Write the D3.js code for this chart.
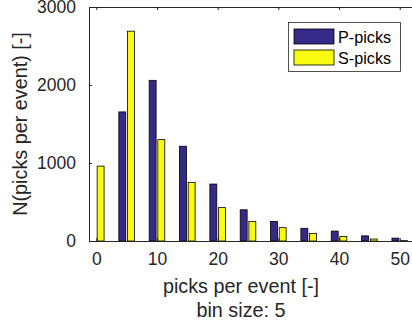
<!DOCTYPE html>
<html>
<head>
<meta charset="utf-8">
<script src="https://cdn.jsdelivr.net/npm/d3@7"></script>
<style>
  body { margin: 0; background: #fff; }
  svg { display: block; font-family: "Liberation Sans", Arial, sans-serif; }
</style>
</head>
<body>
<svg id="chart"></svg>
<script>
// chart size matches the browser window
const width = 412;
const height = 324;

// histogram data (bin centres, counts per bin)
const bins = [0, 5, 10, 15, 20, 25, 30, 35, 40, 45, 50];
const pPicks = [0, 1655, 2060, 1215, 730, 400, 250, 163, 127, 66, 37];
const sPicks = [960, 2690, 1300, 752, 428, 252, 171, 98, 58, 25, 5];
const seriesNames = ["P-picks", "S-picks"];
const seriesColors = ["#352a87", "#f9fb0e"];
const xTicks = [0, 10, 20, 30, 40, 50];
const yTicks = [0, 1000, 2000, 3000];

const axisColor = "#262626";

const svg = d3.select("#chart")
    .attr("width", width)
    .attr("height", height);

// axes box (right side falls outside the window, like the original)
const x = d3.scaleLinear().domain([-1.2, 52.5]).range([89, 414.9]);
const y = d3.scaleLinear().domain([0, 3000]).range([241, 7]);

// two bars per bin, grouped around the bin centre
const groupWidth = (x(5) - x(0)) * 0.5714;
const sub = d3.scaleBand()
    .domain(seriesNames)
    .range([-groupWidth / 2, groupWidth / 2])
    .paddingInner(0.2)
    .paddingOuter(0.1);

const rows = bins.map((b, i) => ({ bin: b, values: [pPicks[i], sPicks[i]] }));

const groups = svg.append("g")
    .selectAll("g")
    .data(rows)
    .enter()
    .append("g")
    .attr("transform", d => `translate(${x(d.bin)},0)`);

groups.selectAll("rect")
    .data(d => d.values.map((v, i) => ({ name: seriesNames[i], value: v, color: seriesColors[i] })))
    .enter()
    .append("rect")
    .attr("x", d => sub(d.name))
    .attr("y", d => y(d.value))
    .attr("width", sub.bandwidth())
    .attr("height", d => y(0) - y(d.value))
    .attr("fill", d => d.color)
    .attr("stroke", "#000")
    .attr("stroke-width", 0.8);

// bottom axis, ticks point inward
const xAxis = svg.append("g")
    .attr("transform", `translate(0,${y(0)})`)
    .call(d3.axisBottom(x).tickValues(xTicks).tickFormat(d3.format("d"))
        .tickSizeInner(-3).tickSizeOuter(0).tickPadding(11.5));

// top axis, ticks only
const xAxisTop = svg.append("g")
    .attr("transform", `translate(0,${y(3000)})`)
    .call(d3.axisTop(x).tickValues(xTicks).tickSizeInner(-3).tickSizeOuter(0).tickFormat(""));

// left axis
const yAxis = svg.append("g")
    .attr("transform", `translate(${x(-1.2)},0)`)
    .call(d3.axisLeft(y).tickValues(yTicks).tickFormat(d3.format("d"))
        .tickSizeInner(-3).tickSizeOuter(0).tickPadding(13));

[xAxis, xAxisTop, yAxis].forEach(g => {
    g.selectAll("path, line").attr("stroke", axisColor).attr("stroke-width", 1);
    g.selectAll("text")
        .attr("fill", axisColor)
        .style("font-size", "17.5px")
        .style("font-family", "'Liberation Sans', Arial, sans-serif");
});

// axis titles
svg.append("text")
    .attr("x", 241)
    .attr("y", 292.5)
    .attr("text-anchor", "middle")
    .attr("fill", axisColor)
    .style("font-size", "19.8px")
    .text("picks per event [-]");

svg.append("text")
    .attr("x", 241)
    .attr("y", 316.5)
    .attr("text-anchor", "middle")
    .attr("fill", axisColor)
    .style("font-size", "19.8px")
    .text("bin size: 5");

svg.append("text")
    .attr("transform", `translate(26.7,${(y(0) + y(3000)) / 2}) rotate(-90)`)
    .attr("text-anchor", "middle")
    .attr("fill", axisColor)
    .style("font-size", "19.8px")
    .text("N(picks per event) [-]");

// legend
const legend = svg.append("g");
legend.append("rect")
    .attr("x", 288.5)
    .attr("y", 22.5)
    .attr("width", 112)
    .attr("height", 49)
    .attr("fill", "#fff")
    .attr("stroke", axisColor)
    .attr("stroke-width", 0.8);

const items = legend.selectAll("g.item")
    .data(seriesNames)
    .enter()
    .append("g")
    .attr("class", "item")
    .attr("transform", (d, i) => `translate(294,${29 + i * 21})`);

items.append("rect")
    .attr("width", 40)
    .attr("height", 15)
    .attr("fill", (d, i) => seriesColors[i])
    .attr("stroke", "#000")
    .attr("stroke-width", 0.8);

items.append("text")
    .attr("x", 44)
    .attr("y", 13.5)
    .attr("fill", "#000")
    .style("font-size", "16.2px")
    .text(d => d);
</script>
</body>
</html>
